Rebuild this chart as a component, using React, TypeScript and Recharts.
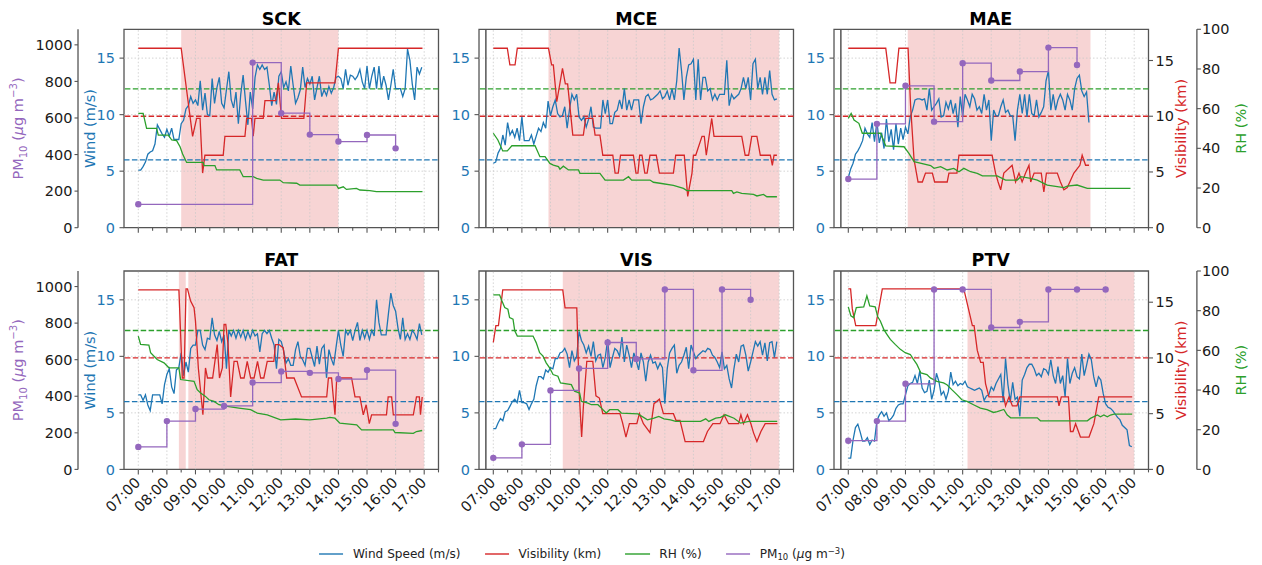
import React from 'react';
import { ComposedChart, Line, XAxis, YAxis, ReferenceArea, ReferenceLine } from 'recharts';

type P = [number, number];

// ---------- axes / ticks ----------
const HOUR_TICKS = [7, 8, 9, 10, 11, 12, 13, 14, 15, 16, 17];
const HOUR_LABELS = ['07:00', '08:00', '09:00', '10:00', '11:00', '12:00', '13:00', '14:00', '15:00', '16:00', '17:00'];
const HALF_TICKS = [7, 7.5, 8, 8.5, 9, 9.5, 10, 10.5, 11, 11.5, 12, 12.5, 13, 13.5, 14, 14.5, 15, 15.5, 16, 16.5, 17, 17.5];
const WIND_TICKS = [0, 5, 10, 15];
const VIS_TICKS = [0, 5, 10, 15];
const RH_TICKS = [0, 20, 40, 60, 80, 100];
const PM_TICKS = [0, 200, 400, 600, 800, 1000];
const X_DOMAIN = [6.5, 17.5];
const WIND_MAX = 17.55;
const VIS_MAX = 17.8;
const RH_MAX = 100;
const PM_MAX = 1085;
const WIND_REF = 6;
const VIS_REF = 10;
const RH_REF = 70;
const WIND_START = 7;
const WIND_STEP_MIN = 5;

// ---------- SCK ----------
const SCK_WIND = [
  5.1, 5.1, 5.4, 5.8, 6.5, 6.7, 6.8, 7.4, 9.1, 8.7, 8.3, 8.0,
  8.7, 8.1, 8.8, 7.8, 7.8, 7.8, 9.2, 9.5, 10.5, 10.8, 11.6, 11.0,
  11.3, 10.8, 13.0, 10.4, 11.9, 10.0, 9.9, 13.2, 11.0, 12.4, 13.3, 11.0,
  10.6, 12.2, 13.8, 11.3, 10.6, 12.0, 9.2, 11.8, 13.5, 11.2, 9.1, 12.0,
  10.5, 13.3, 14.4, 14.0, 14.4, 14.0, 14.2, 12.6, 10.8, 12.0, 10.9, 13.4,
  13.8, 12.4, 12.9, 12.1, 14.3, 12.6, 11.0, 11.5, 12.2, 14.2, 12.4, 13.2,
  12.7, 13.4, 11.3, 12.4, 13.4, 11.6, 12.2, 11.7, 12.5, 11.9, 12.4, 13.3,
  13.4, 13.2, 12.3, 14.0, 12.6, 13.5, 13.4, 13.1, 13.4, 14.0, 12.9, 12.3,
  14.3, 12.3, 13.4, 14.2, 12.3, 14.3, 12.3, 13.4, 12.6, 11.3, 12.6, 14.0,
  12.3, 12.3, 12.3, 11.6, 12.3, 15.8, 14.8, 12.7, 11.3, 14.2, 13.6, 14.2,
];
const SCK_VIS: P[] = [[7, 16.1], [8.5, 16.1], [8.9, 8.2], [9.04, 9.8], [9.16, 9.8], [9.25, 4.9], [9.33, 6.5], [9.97, 6.5], [10.03, 8.2], [10.73, 8.2], [10.79, 9.8], [10.96, 9.8], [11.02, 8.2], [11.08, 9.8], [11.37, 9.8], [11.43, 11.4], [11.81, 11.4], [11.9, 13.0], [12.01, 9.8], [12.79, 9.8], [12.89, 13.0], [13.88, 13.0], [14.0, 16.1], [16.94, 16.1]];
const SCK_RH: P[] = [[7, 57.6], [7.17, 57.6], [7.29, 50.1], [7.64, 50.1], [7.7, 46.7], [8.05, 46.7], [8.17, 44.2], [8.34, 43.9], [8.46, 40.8], [8.55, 37.1], [8.69, 32.9], [9.27, 32.9], [9.3, 31.3], [9.68, 31.3], [9.74, 29.1], [10.55, 29.1], [10.67, 25.7], [11.02, 25.7], [11.14, 24.9], [11.37, 24.0], [11.95, 24.0], [12.07, 22.7], [12.54, 22.4], [12.65, 21.5], [13.93, 21.5], [14.0, 19.8], [14.17, 20.6], [14.28, 19.3], [14.63, 19.8], [14.75, 19.0], [15.1, 18.7], [15.33, 18.2], [16.94, 18.2]];
const SCK_PM10: P[] = [[7, 128], [11, 903], [12, 626], [13, 509], [14, 471], [15, 507], [16, 434]];
const SCK_ALERT: P[] = [[8.5, 14.0]];

// ---------- MCE ----------
const MCE_WIND = [
  5.7, 5.8, 6.6, 7.0, 8.2, 7.3, 9.3, 8.2, 8.6, 8.0, 8.8, 7.7,
  9.8, 7.7, 7.7, 7.7, 8.2, 7.4, 8.1, 8.8, 8.5, 9.3, 8.8, 11.2,
  9.9, 10.7, 11.3, 10.1, 9.8, 9.9, 10.7, 8.8, 10.5, 11.8, 11.3, 11.8,
  9.8, 9.5, 9.8, 8.9, 9.6, 10.7, 8.9, 8.8, 8.8, 8.8, 11.3, 10.1,
  11.3, 9.2, 9.2, 10.2, 10.4, 11.3, 10.5, 12.3, 10.4, 11.3, 10.4, 11.3,
  11.3, 11.3, 9.2, 10.7, 11.6, 11.8, 11.3, 11.4, 11.6, 11.8, 12.1, 11.4,
  11.6, 12.1, 11.3, 12.3, 11.3, 13.0, 15.9, 13.9, 11.3, 13.3, 14.4, 14.5,
  14.9, 11.3, 14.9, 11.3, 13.3, 13.3, 12.1, 12.3, 11.3, 11.8, 11.3, 11.8,
  11.8, 11.8, 14.8, 10.8, 11.8, 11.4, 11.6, 11.8, 12.3, 13.3, 12.3, 13.3,
  11.3, 14.5, 14.9, 12.3, 13.3, 11.8, 13.3, 11.8, 13.9, 11.8, 11.3, 11.4,
];
const MCE_VIS: P[] = [[7, 16.1], [7.49, 16.1], [7.58, 14.6], [7.76, 14.6], [7.84, 16.1], [8.93, 16.1], [9.04, 14.6], [9.1, 14.6], [9.22, 11.3], [9.42, 14.3], [9.52, 12.9], [9.6, 12.9], [9.78, 8.3], [10.15, 8.3], [10.23, 9.8], [10.48, 9.8], [10.56, 8.3], [10.73, 8.3], [10.83, 6.5], [11.18, 6.5], [11.26, 4.9], [11.37, 4.9], [11.45, 6.5], [11.9, 6.5], [11.99, 4.9], [12.06, 4.9], [12.12, 6.5], [12.2, 6.5], [12.3, 4.9], [12.38, 4.9], [12.48, 6.5], [12.7, 6.5], [12.81, 4.9], [13.3, 4.9], [13.38, 6.5], [13.68, 6.5], [13.8, 2.8], [13.95, 4.9], [14.0, 6.5], [14.08, 6.5], [14.3, 8.2], [14.38, 8.2], [14.45, 6.5], [14.64, 9.8], [14.72, 8.2], [15.69, 8.2], [15.81, 6.5], [15.93, 6.5], [16.04, 8.2], [16.22, 8.2], [16.34, 6.5], [16.69, 6.5], [16.76, 5.6], [16.82, 6.5], [16.92, 6.5]];
const MCE_RH: P[] = [[7, 47.6], [7.16, 44.2], [7.33, 38.7], [7.49, 38.7], [7.65, 41.3], [8.46, 41.3], [8.63, 35.8], [8.81, 35.8], [8.98, 32.4], [9.1, 31.5], [9.28, 30.8], [9.33, 29.5], [9.45, 31.0], [9.63, 29.1], [9.98, 29.1], [10.03, 27.4], [10.73, 27.4], [10.91, 24.0], [11.55, 24.0], [11.73, 25.7], [11.84, 24.0], [12.48, 24.0], [12.6, 22.9], [12.83, 22.4], [13.3, 21.3], [13.65, 19.8], [13.77, 18.7], [15.34, 18.7], [15.4, 17.3], [15.52, 18.0], [15.69, 17.3], [16.1, 16.8], [16.22, 16.0], [16.45, 16.8], [16.57, 15.6], [16.92, 15.6]];
const MCE_PM10: P[] = [];
const MCE_ALERT: P[] = [[8.93, 17.0]];

// ---------- MAE ----------
const MAE_WIND = [
  4.4, 5.2, 5.7, 6.5, 6.8, 7.2, 7.7, 8.8, 8.3, 8.0, 9.3, 7.6,
  9.4, 7.5, 8.4, 7.0, 9.6, 7.6, 8.7, 6.9, 9.2, 7.4, 8.8, 7.8,
  8.9, 8.3, 9.8, 10.4, 11.3, 11.4, 11.4, 11.3, 11.4, 10.4, 12.3, 10.4,
  10.7, 11.0, 11.4, 9.8, 9.9, 11.1, 10.5, 11.3, 10.1, 11.0, 8.9, 11.6,
  9.8, 11.8, 11.3, 10.7, 11.8, 11.4, 10.4, 10.7, 10.1, 11.8, 10.4, 11.3,
  7.7, 10.4, 9.9, 9.9, 10.7, 11.3, 10.2, 10.4, 9.9, 9.9, 7.7, 10.4,
  11.8, 10.1, 11.8, 9.8, 11.8, 10.1, 9.9, 11.3, 9.8, 10.2, 10.7, 13.0,
  13.9, 10.4, 11.8, 10.4, 11.3, 11.8, 11.3, 10.4, 11.8, 11.3, 10.4, 12.3,
  13.2, 13.5, 12.1, 11.6, 12.0, 9.3,
];
const MAE_VIS: P[] = [[7, 16.1], [8.31, 16.1], [8.46, 13.0], [8.65, 13.0], [8.77, 16.1], [9.09, 16.1], [9.18, 10.9], [9.3, 6.1], [9.44, 4.1], [9.59, 4.1], [9.7, 4.9], [9.94, 4.9], [10.02, 4.1], [10.46, 4.1], [10.52, 4.9], [10.8, 4.9], [10.87, 6.5], [12.03, 6.5], [12.15, 4.9], [12.24, 4.1], [12.33, 3.4], [12.44, 4.9], [12.73, 5.6], [12.85, 4.1], [12.97, 4.9], [13.08, 4.1], [13.2, 4.9], [13.32, 5.6], [13.38, 4.1], [13.5, 4.9], [13.75, 4.9], [13.84, 3.2], [13.93, 4.9], [14.31, 4.9], [14.42, 4.1], [14.54, 3.4], [14.66, 3.6], [14.89, 4.9], [15.1, 5.6], [15.18, 6.5], [15.3, 5.6], [15.42, 5.6]];
const MAE_RH: P[] = [[7, 55.1], [7.1, 57.6], [7.2, 54.3], [7.37, 52.6], [7.49, 47.6], [8.13, 47.6], [8.31, 41.2], [8.95, 40.8], [9.12, 37.5], [9.3, 33.3], [9.88, 31.3], [10.0, 29.9], [10.23, 30.8], [10.46, 29.1], [10.69, 29.9], [10.87, 28.2], [11.04, 29.9], [11.28, 28.2], [11.51, 27.4], [11.69, 26.1], [12.21, 26.1], [12.5, 24.0], [12.91, 24.0], [13.03, 25.7], [13.38, 24.9], [13.61, 24.0], [13.96, 21.5], [14.54, 20.2], [14.66, 21.0], [15.0, 21.5], [15.36, 19.8], [16.87, 19.8]];
const MAE_PM10: P[] = [[7, 266], [8, 568], [9, 776], [10, 580], [11, 900], [12, 805], [13, 854], [14, 985], [15, 890]];
const MAE_ALERT: P[] = [[9.08, 15.47]];

// ---------- FAT ----------
const FAT_WIND = [
  6.6, 6.6, 6.1, 6.6, 5.7, 5.2, 6.6, 6.6, 6.6, 6.6, 5.8, 7.5,
  8.4, 8.9, 7.3, 6.7, 8.8, 9.0, 10.3, 8.3, 9.5, 8.6, 10.7, 11.0,
  11.0, 12.3, 12.3, 11.0, 10.6, 11.6, 11.5, 13.4, 11.9, 11.4, 12.2, 11.3,
  11.9, 8.9, 12.3, 11.8, 12.3, 11.6, 12.3, 11.7, 12.3, 11.5, 12.2, 11.6,
  12.3, 11.8, 12.0, 10.4, 12.0, 12.3, 12.0, 12.3, 11.6, 11.0, 8.9, 11.5,
  11.3, 10.5, 9.4, 9.8, 9.2, 9.2, 10.6, 11.3, 10.0, 9.7, 9.2, 10.7,
  10.7, 9.9, 9.1, 10.9, 9.3, 10.7, 11.0, 8.1, 10.6, 9.8, 9.2, 10.8,
  12.3, 11.0, 10.0, 12.3, 11.9, 12.3, 11.4, 12.3, 13.0, 11.4, 12.3, 11.6,
  12.3, 11.5, 12.3, 11.8, 15.0, 13.0, 11.9, 11.9, 11.9, 13.8, 15.6, 14.5,
  14.0, 12.5, 11.5, 13.4, 11.5, 12.0, 11.5, 12.3, 12.0, 11.5, 12.9, 11.9,
];
const FAT_VIS: P[] = [[7, 16.1], [8.42, 16.1], [8.54, 8.2], [8.6, 8.2], [8.67, 16.2], [8.72, 16.2], [8.83, 15.1], [8.95, 14.5], [9.0, 13.3], [9.1, 9.1], [9.26, 4.9], [9.35, 9.1], [9.42, 8.2], [9.6, 8.2], [9.76, 11.2], [9.84, 8.2], [9.94, 9.1], [10.0, 13.0], [10.06, 13.0], [10.14, 11.2], [10.23, 6.5], [10.35, 9.7], [10.46, 9.7], [10.58, 8.2], [10.7, 8.2], [10.81, 9.7], [10.93, 8.2], [11.05, 8.2], [11.17, 9.7], [11.28, 8.2], [11.39, 8.2], [11.51, 9.7], [11.74, 9.7], [11.8, 11.2], [11.92, 11.2], [12.07, 10.9], [12.19, 8.2], [12.45, 8.2], [12.71, 6.5], [13.59, 6.5], [13.65, 8.2], [13.76, 8.2], [13.82, 6.5], [13.88, 4.9], [13.94, 8.2], [14.46, 8.2], [14.58, 6.5], [14.75, 6.5], [14.87, 4.9], [14.97, 5.8], [15.08, 4.1], [15.16, 4.9], [15.68, 4.9], [15.74, 6.5], [15.86, 6.5], [15.92, 4.9], [16.62, 4.9], [16.73, 6.5], [16.83, 6.5], [16.87, 4.9], [16.93, 6.5]];
const FAT_RH: P[] = [[7, 67.2], [7.08, 63.0], [7.37, 62.7], [7.43, 58.8], [7.66, 55.4], [7.9, 53.7], [8.07, 51.2], [8.42, 51.2], [8.48, 45.3], [8.95, 44.4], [9.06, 40.2], [9.18, 38.5], [9.35, 36.8], [9.47, 35.1], [9.65, 34.3], [9.82, 32.6], [10.11, 31.8], [10.52, 30.9], [10.93, 30.1], [11.16, 28.4], [11.51, 27.5], [11.98, 25.0], [12.5, 25.4], [13.0, 25.0], [13.59, 25.8], [13.7, 26.2], [13.88, 25.8], [14.05, 23.3], [14.64, 22.5], [14.81, 19.9], [15.92, 19.9], [15.98, 18.6], [16.62, 18.2], [16.73, 19.1], [16.93, 19.6]];
const FAT_PM10: P[] = [[7, 123], [8, 264], [9, 330], [10, 347], [11, 475], [12, 536], [13, 528], [14, 494], [15, 543], [16, 249]];
const FAT_ALERT: P[] = [[8.42, 8.66], [8.75, 17.0]];

// ---------- VIS ----------
const VIS_WIND = [
  3.6, 3.6, 4.1, 4.5, 4.3, 5.1, 5.2, 5.6, 6.0, 6.2, 5.9, 7.0,
  5.9, 5.9, 5.8, 5.3, 5.8, 6.2, 7.4, 8.2, 8.2, 8.0, 8.8, 8.6,
  9.0, 8.9, 9.8, 9.8, 10.3, 10.4, 10.7, 10.2, 9.0, 10.5, 9.6, 10.0,
  12.2, 11.4, 11.0, 10.3, 10.9, 10.0, 11.3, 9.6, 10.1, 10.2, 9.0, 9.9,
  11.5, 9.0, 9.9, 10.7, 10.5, 10.0, 11.7, 9.5, 11.0, 10.1, 9.0, 10.3,
  9.6, 8.8, 10.3, 9.5, 7.8, 9.5, 10.1, 9.4, 9.5, 8.9, 9.4, 9.0,
  5.8, 8.9, 10.3, 10.7, 11.0, 8.5, 9.2, 9.5, 10.1, 10.8, 8.9, 11.0,
  10.4, 9.8, 10.1, 10.3, 10.5, 10.4, 10.7, 10.6, 10.1, 9.9, 9.5, 9.0,
  10.4, 8.9, 9.2, 8.0, 7.2, 8.9, 10.2, 9.5, 10.9, 11.0, 10.1, 8.7,
  9.5, 10.4, 11.3, 10.9, 11.3, 10.1, 11.2, 9.6, 11.2, 11.3, 9.9, 11.3,
];
const VIS_VIS: P[] = [[7.0, 11.4], [7.09, 12.9], [7.18, 12.9], [7.33, 16.1], [9.43, 16.1], [9.51, 14.5], [9.92, 14.5], [10.0, 7.1], [10.09, 2.9], [10.15, 5.6], [10.27, 9.7], [10.48, 9.7], [10.59, 6.6], [10.71, 6.4], [10.83, 5.0], [11.43, 5.0], [11.52, 4.2], [11.64, 2.9], [11.76, 4.1], [12.02, 4.1], [12.11, 5.0], [12.25, 4.1], [12.48, 3.3], [12.62, 5.9], [12.81, 6.3], [12.95, 5.0], [13.3, 5.0], [13.39, 4.4], [13.53, 4.4], [13.71, 2.5], [14.35, 2.5], [14.49, 3.4], [14.68, 4.1], [14.93, 4.1], [15.07, 4.9], [15.23, 4.1], [15.58, 4.1], [15.66, 4.9], [15.75, 4.1], [15.89, 4.9], [16.01, 4.1], [16.1, 3.3], [16.22, 2.5], [16.36, 3.4], [16.51, 4.1], [16.94, 4.1]];
const VIS_RH: P[] = [[7, 88.0], [7.22, 88.0], [7.3, 85.0], [7.4, 81.6], [7.51, 80.7], [7.57, 76.5], [7.69, 75.7], [7.75, 69.8], [7.84, 67.2], [8.39, 67.2], [8.5, 63.9], [8.62, 58.8], [8.74, 57.1], [8.85, 53.7], [8.97, 51.2], [9.09, 47.8], [9.26, 47.0], [9.35, 43.6], [9.73, 42.7], [9.84, 39.4], [10.02, 38.5], [10.08, 34.3], [10.31, 33.4], [10.43, 32.6], [10.66, 32.6], [10.78, 30.9], [10.95, 28.4], [11.07, 30.1], [11.36, 30.1], [11.48, 28.4], [12.06, 28.0], [12.39, 25.0], [12.62, 25.8], [12.79, 26.7], [12.97, 25.5], [13.2, 25.0], [13.38, 24.2], [14.25, 24.2], [14.43, 25.5], [14.54, 24.2], [14.78, 25.8], [14.95, 26.2], [15.12, 27.5], [15.42, 25.8], [15.65, 23.3], [15.94, 24.2], [16.93, 24.2]];
const VIS_PM10: P[] = [[7, 63], [8, 137], [9, 432], [10, 552], [11, 694], [12, 604], [13, 984], [14, 542], [15, 984], [16, 928]];
const VIS_ALERT: P[] = [[9.43, 17.0]];

// ---------- PTV ----------
const PTV_WIND = [
  1.0, 1.0, 2.6, 3.7, 4.0, 3.3, 2.5, 2.5, 2.8, 2.2, 2.6, 2.5,
  4.3, 4.8, 5.1, 4.7, 5.0, 4.3, 4.5, 4.8, 5.4, 5.7, 5.8, 5.8,
  6.6, 7.4, 7.6, 7.7, 8.3, 7.6, 8.7, 7.2, 6.8, 6.9, 7.9, 6.2,
  7.0, 8.5, 7.8, 6.6, 6.9, 6.2, 6.9, 8.6, 7.5, 7.8, 7.4, 7.6,
  7.5, 7.8, 7.3, 7.2, 7.1, 7.0, 7.1, 7.2, 7.0, 6.1, 6.5, 6.6,
  7.3, 7.0, 7.6, 8.0, 8.4, 6.0, 9.8, 7.5, 6.0, 7.7, 6.2, 6.4,
  4.7, 7.9, 8.4, 9.0, 9.3, 9.3, 8.9, 8.3, 8.5, 8.2, 8.9, 8.8,
  8.4, 9.7, 8.3, 7.6, 9.1, 7.6, 8.3, 6.4, 9.8, 7.6, 8.5, 9.0,
  8.2, 8.0, 10.2, 8.3, 9.2, 10.2, 9.7, 8.2, 7.3, 8.2, 7.9, 6.7,
  5.8, 5.5, 5.4, 5.2, 4.9, 4.6, 4.4, 3.9, 3.7, 3.5, 2.1, 2.0,
];
const PTV_VIS: P[] = [[7, 16.2], [7.08, 16.2], [7.14, 14.4], [7.26, 12.9], [7.96, 12.9], [8.19, 16.2], [11.04, 16.2], [11.34, 12.9], [11.4, 12.9], [11.51, 10.7], [11.63, 9.6], [11.72, 9.6], [11.8, 7.7], [11.92, 6.5], [12.44, 6.5], [12.5, 5.7], [12.62, 6.5], [12.74, 5.7], [12.9, 5.7], [13.0, 6.5], [14.31, 6.5], [14.37, 5.7], [14.45, 6.5], [14.7, 6.5], [14.77, 3.4], [14.86, 3.4], [14.95, 4.1], [15.05, 3.4], [15.12, 2.9], [15.42, 2.9], [15.59, 4.1], [15.76, 6.5], [16.93, 6.5]];
const PTV_RH: P[] = [[7, 81.9], [7.09, 77.4], [7.19, 76.5], [7.28, 81.6], [7.54, 81.9], [7.65, 87.5], [7.75, 82.4], [7.94, 81.9], [8.03, 76.9], [8.12, 74.8], [8.24, 70.6], [8.35, 68.1], [8.47, 65.5], [8.64, 63.0], [8.82, 60.5], [8.99, 58.8], [9.17, 57.9], [9.28, 55.4], [9.4, 52.9], [9.54, 48.6], [9.75, 47.8], [9.87, 46.1], [10.1, 44.4], [10.33, 43.6], [10.45, 42.7], [10.62, 40.2], [10.8, 37.7], [10.97, 35.1], [11.15, 34.3], [11.38, 32.6], [11.62, 30.9], [11.85, 30.1], [12.08, 28.7], [12.21, 29.1], [12.44, 30.2], [12.56, 27.4], [12.68, 26.0], [13.61, 26.0], [13.72, 24.5], [15.36, 24.5], [15.47, 25.7], [15.71, 27.4], [15.82, 26.5], [15.94, 27.4], [16.06, 26.5], [16.17, 27.4], [16.29, 27.9], [16.93, 27.9]];
const PTV_PM10: P[] = [[7, 157], [8, 264], [9, 468], [10, 984], [11, 984], [12, 776], [13, 807], [14, 984], [15, 984], [16, 984]];
const PTV_ALERT: P[] = [[11.17, 17.0]];

const MARKER_TIME = 6.74;

// ---------- style ----------
const BLUE = '#1f77b4';
const RED = '#d62728';
const GREEN = '#2ca02c';
const PURPLE = '#9467bd';
const FRAME = '#555555';
const GRID = '#c9c9c9';
const TXT = '#1a1a1a';
const FONT = '"DejaVu Sans", Verdana, sans-serif';
const FS = 14.5;

const toPts = (arr: P[]) => arr.map(([t, v]) => ({ t, v }));
const windPts = (arr: number[]) => arr.map((v, i) => ({ t: WIND_START + (i * WIND_STEP_MIN) / 60, v }));

const PANELS = [
  { name: 'SCK', row: 0, col: 0, wind: SCK_WIND, vis: SCK_VIS, rh: SCK_RH, pm: SCK_PM10, alert: SCK_ALERT, marker: false },
  { name: 'MCE', row: 0, col: 1, wind: MCE_WIND, vis: MCE_VIS, rh: MCE_RH, pm: MCE_PM10, alert: MCE_ALERT, marker: true },
  { name: 'MAE', row: 0, col: 2, wind: MAE_WIND, vis: MAE_VIS, rh: MAE_RH, pm: MAE_PM10, alert: MAE_ALERT, marker: true },
  { name: 'FAT', row: 1, col: 0, wind: FAT_WIND, vis: FAT_VIS, rh: FAT_RH, pm: FAT_PM10, alert: FAT_ALERT, marker: false },
  { name: 'VIS', row: 1, col: 1, wind: VIS_WIND, vis: VIS_VIS, rh: VIS_RH, pm: VIS_PM10, alert: VIS_ALERT, marker: true },
  { name: 'PTV', row: 1, col: 2, wind: PTV_WIND, vis: PTV_VIS, rh: PTV_RH, pm: PTV_PM10, alert: PTV_ALERT, marker: true },
];

// layout (pixels)
const PLOT_LEFT = [124, 479.2, 833.5];
const PLOT_W = 314.5;
const PLOT_TOP = [29.3, 271];
const PLOT_H = 198.4;
const ROW_CHART_TOP = [0, 250];
const X_AXIS_H = [8, 70];
const WIND_AXIS_W = [46, 40, 40];
const PM_AXIS_W = 78;
const VIS_AXIS_W = 48.4;
const RH_AXIS_W = 64;

const XTick = (props: any) => {
  const { x, y, payload, showLabel } = props;
  const v = payload.value as number;
  const idx = HOUR_TICKS.indexOf(v);
  const major = idx >= 0;
  const ax = x + 3;
  const ay = y + 14;
  return (
    <g>
      <line x1={x} x2={x} y1={y} y2={y + (major ? 5 : 3)} stroke={FRAME} strokeWidth={1.1} />
      {showLabel && major ? (
        <text x={ax} y={ay} transform={`rotate(-45 ${ax} ${ay})`} textAnchor="end" fontSize={FS} fill={TXT} fontFamily={FONT}>
          {HOUR_LABELS[idx]}
        </text>
      ) : null}
    </g>
  );
};

function Panel({ p }: { p: any }) {
  const showPm = p.col === 0;
  const showRight = p.col === 2;
  const windW = WIND_AXIS_W[p.col];
  const chartLeft = PLOT_LEFT[p.col] - windW - (showPm ? PM_AXIS_W : 0);
  const chartTop = ROW_CHART_TOP[p.row];
  const mTop = PLOT_TOP[p.row] - chartTop;
  const mRight = showRight ? 0 : 4;
  const chartW = (showPm ? PM_AXIS_W : 0) + windW + PLOT_W + (showRight ? VIS_AXIS_W + RH_AXIS_W : 0) + mRight;
  const chartH = mTop + PLOT_H + X_AXIS_H[p.row];
  const showXLabels = p.row === 1;

  return (
    <div style={{ position: 'absolute', left: chartLeft, top: chartTop }}>
      <ComposedChart width={chartW} height={chartH} margin={{ top: mTop, right: mRight, bottom: 0, left: 0 }}>
        <XAxis
          type="number"
          dataKey="t"
          domain={X_DOMAIN}
          allowDataOverflow
          ticks={HALF_TICKS}
          interval={0}
          height={X_AXIS_H[p.row]}
          tickLine={false}
          tickSize={0}
          tickMargin={0}
          axisLine={false}
          tick={(tp: any) => <XTick {...tp} showLabel={showXLabels} />}
        />
        <YAxis
          yAxisId="bPm"
          orientation="left"
          type="number"
          hide={!showPm}
          width={showPm ? PM_AXIS_W : 0}
          domain={[0, PM_MAX]}
          allowDataOverflow
          ticks={PM_TICKS}
          interval={0}
          axisLine={{ stroke: FRAME, strokeWidth: 1.3 }}
          tickLine={{ stroke: FRAME, strokeWidth: 1.1 }}
          tickSize={3.5}
          tickMargin={2}
          tick={{ fill: TXT, fontSize: FS, fontFamily: FONT }}
        />
        <YAxis
          yAxisId="aWind"
          orientation="left"
          type="number"
          width={windW}
          domain={[0, WIND_MAX]}
          allowDataOverflow
          ticks={WIND_TICKS}
          interval={0}
          axisLine={false}
          tickLine={{ stroke: FRAME, strokeWidth: 1.1 }}
          tickSize={4.5}
          tickMargin={4.5}
          tick={{ fill: BLUE, fontSize: FS, fontFamily: FONT }}
        />
        <YAxis
          yAxisId="bRh"
          orientation="right"
          type="number"
          hide={!showRight}
          width={showRight ? RH_AXIS_W : 0}
          domain={[0, RH_MAX]}
          allowDataOverflow
          ticks={RH_TICKS}
          interval={0}
          axisLine={{ stroke: FRAME, strokeWidth: 1.3 }}
          tickLine={{ stroke: FRAME, strokeWidth: 1.1 }}
          tickSize={4}
          tickMargin={1}
          tick={{ fill: TXT, fontSize: FS, fontFamily: FONT }}
        />
        <YAxis
          yAxisId="aVis"
          orientation="right"
          type="number"
          hide={!showRight}
          width={showRight ? VIS_AXIS_W : 0}
          domain={[0, VIS_MAX]}
          allowDataOverflow
          ticks={VIS_TICKS}
          interval={0}
          axisLine={false}
          tickLine={{ stroke: FRAME, strokeWidth: 1.1 }}
          tickSize={4.5}
          tickMargin={2.5}
          tick={{ fill: TXT, fontSize: FS, fontFamily: FONT }}
        />

        {p.alert.map((s: P, i: number) => (
          <ReferenceArea key={'a' + i} x1={s[0]} x2={s[1]} yAxisId="aWind" fill={RED} fillOpacity={0.2} stroke="none" ifOverflow="visible" />
        ))}
        {HOUR_TICKS.map((h) => (
          <ReferenceLine key={'gx' + h} x={h} yAxisId="aWind" stroke={GRID} strokeWidth={0.8} strokeDasharray="1.5 2" />
        ))}
        {WIND_TICKS.filter((w) => w > 0).map((w) => (
          <ReferenceLine key={'gy' + w} y={w} yAxisId="aWind" stroke={GRID} strokeWidth={0.8} strokeDasharray="1.5 2" />
        ))}
        {p.marker ? <ReferenceLine x={MARKER_TIME} yAxisId="aWind" stroke={FRAME} strokeWidth={1.5} /> : null}
        <ReferenceLine y={RH_REF} yAxisId="bRh" stroke={GREEN} strokeWidth={1.3} strokeDasharray="5.5 2.4" />
        <ReferenceLine y={VIS_REF} yAxisId="aVis" stroke={RED} strokeWidth={1.3} strokeDasharray="5.5 2.4" />
        <ReferenceLine y={WIND_REF} yAxisId="aWind" stroke={BLUE} strokeWidth={1.3} strokeDasharray="5.5 2.4" />

        <Line data={windPts(p.wind)} dataKey="v" yAxisId="aWind" type="linear" stroke={BLUE} strokeWidth={1.3} dot={false} activeDot={false} isAnimationActive={false} />
        <Line data={toPts(p.vis)} dataKey="v" yAxisId="aVis" type="linear" stroke={RED} strokeWidth={1.3} dot={false} activeDot={false} isAnimationActive={false} />
        <Line data={toPts(p.rh)} dataKey="v" yAxisId="bRh" type="linear" stroke={GREEN} strokeWidth={1.3} dot={false} activeDot={false} isAnimationActive={false} />
        {p.pm.length ? (
          <Line
            data={toPts(p.pm)}
            dataKey="v"
            yAxisId="bPm"
            type="stepAfter"
            stroke={PURPLE}
            strokeWidth={1.3}
            dot={{ r: 3.2, fill: PURPLE, stroke: PURPLE, strokeWidth: 0 }}
            activeDot={false}
            isAnimationActive={false}
          />
        ) : null}
        <ReferenceArea x1={X_DOMAIN[0]} x2={X_DOMAIN[1]} y1={0} y2={WIND_MAX} yAxisId="aWind" fill="none" stroke={FRAME} strokeWidth={1.3} ifOverflow="visible" />
      </ComposedChart>
    </div>
  );
}

const PmLabel = ({ x, y, size }: { x: number; y: number; size: number }) => (
  <text transform={`translate(${x},${y}) rotate(-90)`} textAnchor="middle" fontSize={size} fill={PURPLE} fontFamily={FONT}>
    PM
    <tspan dy={size * 0.25} fontSize={size * 0.7}>10</tspan>
    <tspan dy={-size * 0.25}> (</tspan>
    <tspan fontStyle="italic">μ</tspan>
    <tspan>g m</tspan>
    <tspan dy={-size * 0.4} fontSize={size * 0.7}>−3</tspan>
    <tspan dy={size * 0.4}>)</tspan>
  </text>
);

const VText = ({ x, y, color, children }: any) => (
  <text transform={`translate(${x},${y}) rotate(-90)`} textAnchor="middle" fontSize={FS} fill={color} fontFamily={FONT}>
    {children}
  </text>
);

const LEGEND = [
  { label: 'Wind Speed (m/s)', color: BLUE },
  { label: 'Visibility (km)', color: RED },
  { label: 'RH (%)', color: GREEN },
  { label: 'PM10', color: PURPLE },
];

export default function App() {
  const rowMid = [PLOT_TOP[0] + PLOT_H / 2, PLOT_TOP[1] + PLOT_H / 2];
  const titleBase = [25, 266];
  const LF = 12.1;
  return (
    <div style={{ position: 'absolute', left: 0, top: 0, width: 1262, height: 565, overflow: 'hidden', background: '#fff', fontFamily: FONT }}>
      {PANELS.map((p) => (
        <Panel key={p.name} p={p} />
      ))}
      <svg width={1262} height={565} style={{ position: 'absolute', left: 0, top: 0, pointerEvents: 'none' }}>
        {PANELS.map((p) => (
          <text key={'t' + p.name} x={PLOT_LEFT[p.col] + PLOT_W / 2} y={titleBase[p.row]} textAnchor="middle" fontSize={17.5} fontWeight="bold" fill="#000" fontFamily={FONT}>
            {p.name}
          </text>
        ))}
        {[0, 1].map((r) => (
          <g key={'lab' + r}>
            <VText x={95.3} y={rowMid[r]} color={BLUE}>Wind (m/s)</VText>
            <PmLabel x={23} y={rowMid[r]} size={FS} />
            <VText x={1186.4} y={rowMid[r]} color={RED}>Visibility (km)</VText>
            <VText x={1246.4} y={rowMid[r]} color={GREEN}>RH (%)</VText>
          </g>
        ))}
      </svg>
      <div
        style={{
          position: 'absolute',
          left: 582,
          top: 547,
          transform: 'translateX(-50%)',
          display: 'flex',
          alignItems: 'center',
          whiteSpace: 'nowrap',
          fontSize: LF,
          lineHeight: '14px',
          color: '#222',
        }}
      >
        {LEGEND.map((it, i) => (
          <div key={it.label} style={{ display: 'flex', alignItems: 'center', marginLeft: i === 0 ? 0 : 2 * LF }}>
            <div style={{ width: 2 * LF, height: 2, background: it.color, opacity: 0.7, marginRight: 0.8 * LF }} />
            {it.label === 'PM10' ? (
              <span>
                PM<sub style={{ fontSize: '0.7em', lineHeight: 0, verticalAlign: '-0.25em' }}>10</sub> (<i>μ</i>g m
                <sup style={{ fontSize: '0.7em', lineHeight: 0, verticalAlign: '0.45em' }}>−3</sup>)
              </span>
            ) : (
              <span>{it.label}</span>
            )}
          </div>
        ))}
      </div>
    </div>
  );
}
